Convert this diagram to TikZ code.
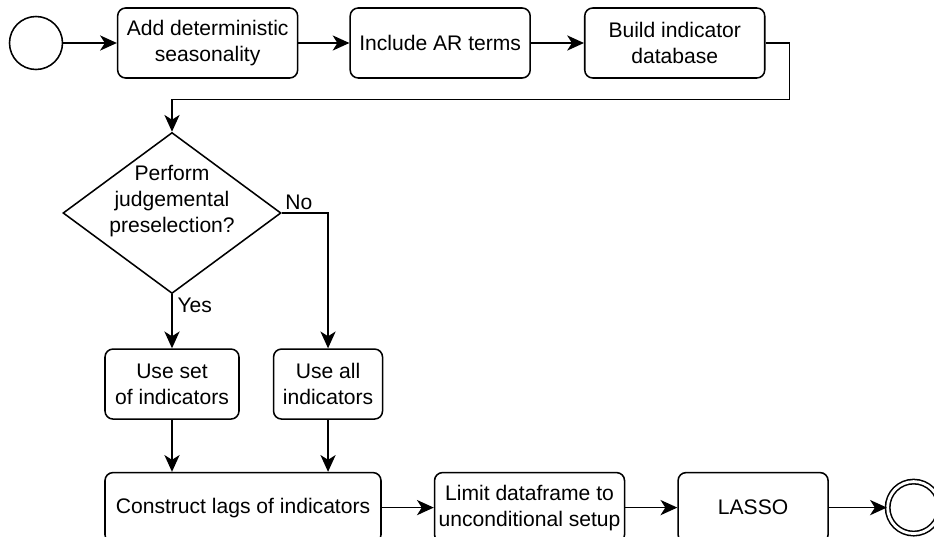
\documentclass[tikz,border=0pt]{standalone}
\usepackage{fontspec}
\setmainfont{Liberation Sans}
\usepackage{tikz}
\usetikzlibrary{positioning, arrows.meta, shapes.geometric}

\tikzset{
  box/.style={draw, rounded corners=2mm, align=center, inner sep=2pt, minimum height=1.75cm},
  decision/.style={draw, diamond, aspect=1.354, inner sep=0pt, minimum width=5.45cm, minimum height=4.025cm},
  startev/.style={draw, circle, minimum size=1.325cm, inner sep=0pt},
  endev/.style={draw, circle, double, double distance=2pt, minimum size=1.3cm, inner sep=0pt},
  connector/.style={->, >={Stealth[length=4.2mm, width=3.8mm, inset=1.2mm]}}
}

\begin{document}
\begin{tikzpicture}[font=\fontsize{15}{18.5}\selectfont, line width=1.1pt]
\useasboundingbox (0,0) rectangle (23.35,-13.425);
\clip (0,0) rectangle (23.35,-13.425);
% top row
\node[startev](Start) at (0.9,-1.075){};
\node[box, minimum width=4.5cm, right = 1.34cm of Start](Seasonal){Add deterministic\\seasonality};
\node[box, minimum width=4.5cm, right = 1.275cm of Seasonal](ArTerms){Include AR terms};
\node[box, minimum width=4.5cm, right = 1.325cm of ArTerms](Database){Build indicator\\database};
% decision
\node[decision](Decision) at (4.3,-5.325){};
\node[align=center](DecisionText) at ([yshift=0.3cm]Decision.center){Perform\\judgemental\\preselection?};
\node[inner sep=2pt, above right = 0cm and 0cm of Decision.east](No){No};
\node[inner sep=2pt, below right = 0cm and 0.05cm of Decision.south](Yes){Yes};
\node[box, minimum width=3.35cm, below = 1.35cm of Decision](UseSet){Use set\\of indicators};
\node[box, minimum width=2.725cm, right = 0.825cm of UseSet](UseAll){Use all\\indicators};
% bottom row
\node[box, minimum width=6.9cm, below right = 1.3cm and 0cm of UseSet.south west](Lags){Construct lags of indicators};
\node[box, minimum width=4.75cm, right = 1.3cm of Lags](Limit){Limit dataframe to\\unconditional setup};
\node[box, minimum width=3.75cm, right = 1.3cm of Limit](Lasso){LASSO};
\node[endev, right = 1.45cm of Lasso](End){};
% connectors
\draw[connector] (Start) -- (Seasonal);
\draw[connector] (Seasonal) -- (ArTerms);
\draw[connector] (ArTerms) -- (Database);
\draw[connector] (Database.east) -- ++(0.6cm,0) |- ([yshift=0.8cm]Decision.north) -- (Decision.north);
\draw[connector] (Decision.south) -- (UseSet.north);
\draw[connector] (Decision.east) -| (UseAll.north);
\draw[connector] (UseSet.south) -- (UseSet.south |- Lags.north);
\draw[connector] (UseAll.south) -- (UseAll.south |- Lags.north);
\draw[connector] (Lags) -- (Limit);
\draw[connector] (Limit) -- (Lasso);
\draw[connector] (Lasso) -- (End);
\end{tikzpicture}
\end{document}
